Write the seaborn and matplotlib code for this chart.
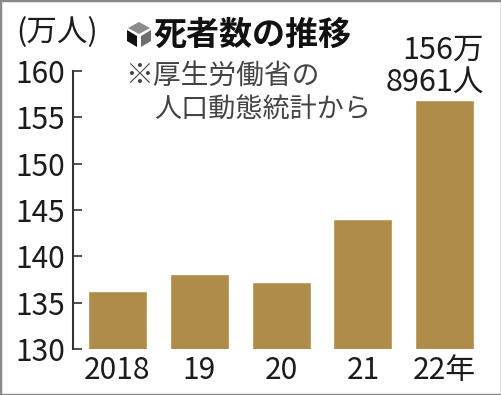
import matplotlib
matplotlib.use('Agg')
import matplotlib.pyplot as plt
import seaborn as sns
import pandas as pd
from matplotlib.patches import Polygon, Rectangle

# Daten
years = ['2018', '19', '20', '21', '22年']
deaths = [136.3, 138.1, 137.2, 144.0, 156.9]
y_ticks = [130, 135, 140, 145, 150, 155, 160]

W, H = 502, 395
BAR = '#b08c4a'
INK = '#1c1c1c'

sns.set_theme(style='white')
CJK = ['Noto Sans CJK JP', 'DejaVu Sans']
plt.rcParams['font.family'] = CJK

df = pd.DataFrame({'year': years, 'deaths': deaths})

fig = plt.figure(figsize=(W / 100, H / 100), dpi=100)
# Achse in Pixeln des Originals
left, right, top, bottom = 72.5, 480, 71, 349
ax = fig.add_axes([left / W, 1 - bottom / H, (right - left) / W, (bottom - top) / H])
ax.patch.set_alpha(0)

sns.barplot(data=df, x='year', y='deaths', color=BAR, saturation=1, width=0.72, ax=ax)
ax.set_xlim(-0.55, -0.55 + (right - left) / 81.8)
ax.set_ylim(130, 160)
ax.set_yticks(y_ticks)
ax.set_xlabel('')
ax.set_ylabel('')
sns.despine(ax=ax, top=True, right=True, bottom=True)
ax.spines['left'].set_color('#333333')
ax.spines['left'].set_linewidth(1.5)
ax.tick_params(axis='y', direction='in', left=True, length=6.5, width=1.2, color='#333333',
               pad=5.5, labelsize=21.5, labelcolor=INK)
ax.tick_params(axis='x', length=0, pad=4, labelsize=21.5, labelcolor=INK)


def px_text(x, y, s, **kw):
    fig.text(x / W, 1 - y / H, s, va='center', **kw)


px_text(57, 33, '(万人)', ha='center', fontsize=22, color=INK)
px_text(153, 35, '死者数の推移', ha='left', fontsize=23.8, fontweight='bold', color='#111111')
px_text(125, 76, '※厚生労働省の', ha='left', fontsize=20, color='#444444')
px_text(154, 110, '人口動態統計から', ha='left', fontsize=19.5, color='#444444')
px_text(484, 50, '156万', ha='right', fontsize=22, color=INK)
px_text(484, 82, '8961人', ha='right', fontsize=22, color=INK)


def px_poly(pts, color):
    fig.add_artist(Polygon([(x / W, 1 - y / H) for x, y in pts], closed=True, color=color,
                           transform=fig.transFigure, lw=0))


# Würfel-Symbol vor dem Titel
px_poly([(139, 22), (150, 28), (139, 34), (128, 28)], '#8c8c8c')
px_poly([(127, 30), (137, 36), (137, 47), (127, 41)], '#111111')
px_poly([(141, 36), (151, 30), (151, 41), (141, 47)], '#6e6e6e')

# Rahmen
fig.add_artist(Rectangle((0, 0), 1, 1, transform=fig.transFigure, fill=False, ec='#8a8a8a', lw=2.5))

fig.savefig('out.png', dpi=100)
